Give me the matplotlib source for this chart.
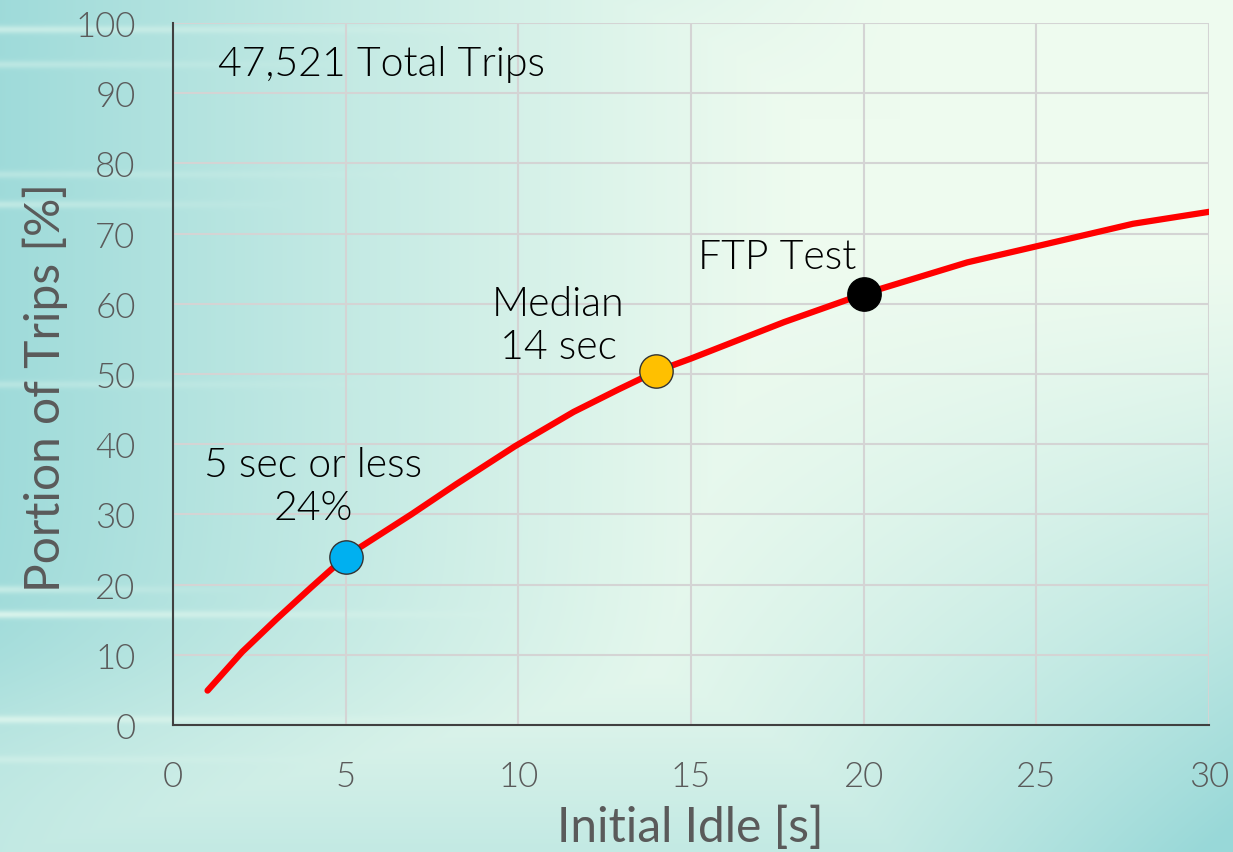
import numpy as np
import matplotlib
matplotlib.use('Agg')
from matplotlib import pyplot as plt
from matplotlib.colors import to_rgb

# cumulative share of trips vs. initial idle time
idle_s = [1, 2, 3, 4, 5, 6.9, 8.2, 9.9, 11.6, 12.9, 14, 15, 17.7, 20, 23, 25.1, 27.8, 30]
portion_pct = [4.9, 10.4, 15.1, 19.6, 24, 30, 34.3, 39.7, 44.6, 47.8, 50.4, 52.2, 57.4, 61.4, 65.9, 68.3, 71.4, 73.1]

# highlighted points
point_x = [5, 14, 20]
point_y = [24, 50.4, 61.4]
point_colors = ['#00b0f0', '#ffc000', '#000000']
point_edges = ['#333333', '#333333', '#000000']

x_ticks = [0, 5, 10, 15, 20, 25, 30]
y_ticks = [0, 10, 20, 30, 40, 50, 60, 70, 80, 90, 100]

plt.rcParams['font.family'] = ['Lato', 'DejaVu Sans']
plt.rcParams['font.weight'] = 300

W, H = 1233, 853
fig = plt.figure(figsize=(W / 100, H / 100), dpi=100)

# teal background: strong on the left edge, the bottom and the lower right, pale mint in between
bg = fig.add_axes([0, 0, 1, 1], zorder=-10)
yy, xx = np.mgrid[0:H, 0:W].astype(float)
fade_bottom = 1 - 0.45 / (1 + np.exp(-(yy - 700) / 40))
w_left = np.clip(1 - xx / 800, 0, 1) ** 1.1 * 0.92 * fade_bottom
w_br = np.clip((xx - 450) / 783, 0, 1) ** 1.3 * np.clip((yy - 250) / 603, 0, 1) ** 1.2
w_bottom = np.clip((yy - 620) / 230, 0, 1) * 0.5
w_top = np.clip(1 - yy / 120, 0, 1) * np.clip(1 - np.abs(xx - 450) / 450, 0, 1) * 0.3
w = np.clip(np.maximum.reduce([w_left, w_br * 1.05, w_bottom, w_top]), 0, 1)
light = np.array(to_rgb('#eefbef'))
teal = np.array(to_rgb('#98d8d8'))
img = light * (1 - w[..., None]) + teal * w[..., None]
# soft horizontal light streaks on the left
for sy, amp, length in [(30, 0.5, 500), (65, 0.35, 350), (175, 0.3, 420), (205, 0.4, 300),
                        (385, 0.3, 380), (590, 0.45, 250), (615, 0.7, 520), (720, 0.6, 500),
                        (760, 0.3, 350)]:
    band = np.exp(-((yy - sy) / 4.0) ** 2) * np.clip(1 - xx / length, 0, 1) * amp
    img = img * (1 - band[..., None]) + np.array([0.93, 0.99, 0.95]) * band[..., None]
bg.imshow(img, aspect='auto', extent=[0, 1, 0, 1], origin='upper')
bg.axis('off')

ax = fig.add_axes([173 / W, 1 - 726 / H, (1209 - 173) / W, (726 - 24) / H])
ax.patch.set_alpha(0)

ax.plot(idle_s, portion_pct, color='#ff0000', lw=4.5, solid_capstyle='round',
        solid_joinstyle='round', zorder=3)
for px, py, c, ec in zip(point_x, point_y, point_colors, point_edges):
    ax.plot(px, py, 'o', ms=24, mfc=c, mec=ec, mew=1, zorder=4)

ax.set_xlim(0, 30)
ax.set_ylim(0, 100)
ax.set_xticks(x_ticks)
ax.set_yticks(y_ticks)
ax.grid(True, color='#d4d4d4', lw=1.5)
ax.set_axisbelow(True)
for s in ['top', 'right']:
    ax.spines[s].set_visible(False)
for s in ['left', 'bottom']:
    ax.spines[s].set_color('#404040')
    ax.spines[s].set_linewidth(1.5)
ax.tick_params(length=0, labelsize=25, labelcolor='#5a5a5a')
ax.tick_params(axis='y', pad=27)
ax.tick_params(axis='x', pad=25)

ax.set_xlabel('Initial Idle [s]', fontsize=34.5, color='#5a5a5a', va='center')
ax.set_ylabel('Portion of Trips [%]', fontsize=34.5, color='#5a5a5a', va='center')
ax.xaxis.set_label_coords(0.499, -0.145)
ax.yaxis.set_label_coords(-0.1236, 0.482)

txt = dict(fontsize=29.5, color='#000000', zorder=5)
ax.text(1.3, 94.2, '47,521 Total Trips', ha='left', va='center', **txt)
ax.text(4.05, 34, '5 sec or less\n24%', ha='center', va='center', linespacing=1.2, **txt)
ax.text(11.15, 57, 'Median\n14 sec', ha='center', va='center', linespacing=1.2, **txt)
ax.text(17.5, 66.8, 'FTP Test', ha='center', va='center', **txt)

fig.savefig('out.png', dpi=100)
